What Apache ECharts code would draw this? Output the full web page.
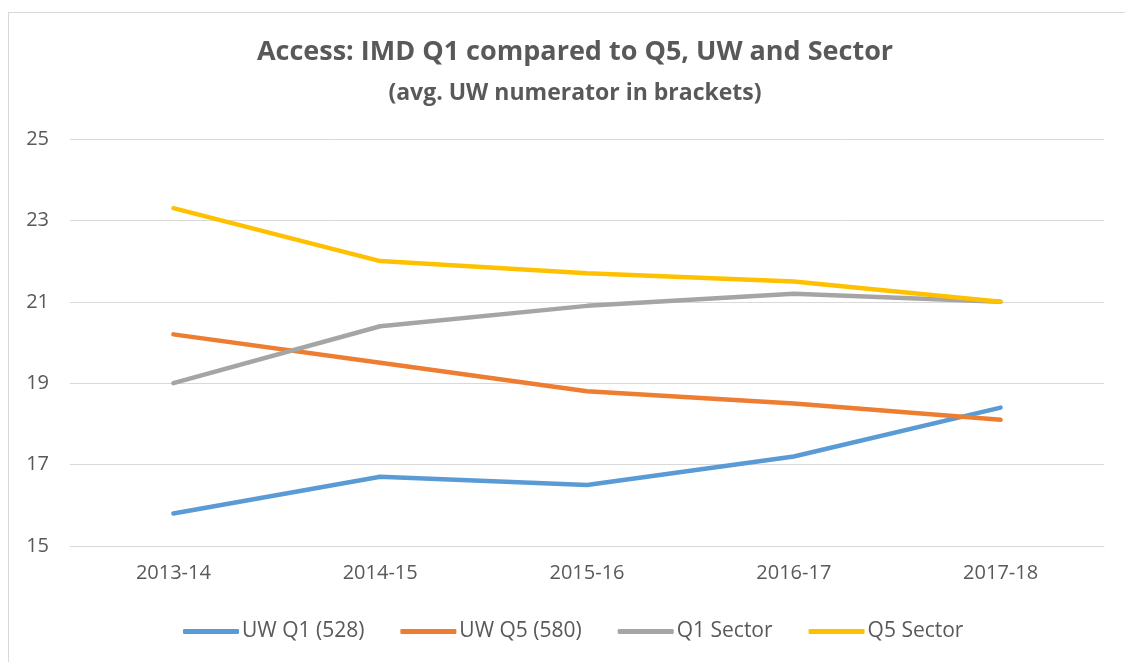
<!DOCTYPE html>
<html>
<head>
<meta charset="utf-8">
<script src="https://cdn.jsdelivr.net/npm/echarts@6/dist/echarts.min.js"></script>
<style>
    html, body { margin: 0; padding: 0; background: #fff; }
    #frame { position: absolute; left: 8px; top: 12px; width: 1130px; height: 660px; border: 1px solid #d9d9d9; box-sizing: border-box; }
    #chart { width: 1125px; height: 662px; }
</style>
</head>
<body>
<div id="frame"></div>
<div id="chart"></div>
<script>
    var years = ['2013-14', '2014-15', '2015-16', '2016-17', '2017-18'];
    var uwQ1 = [15.8, 16.7, 16.5, 17.2, 18.4];
    var uwQ5 = [20.2, 19.5, 18.8, 18.5, 18.1];
    var q1Sector = [19.0, 20.4, 20.9, 21.2, 21.0];
    var q5Sector = [23.3, 22.0, 21.7, 21.5, 21.0];
    var yTicks = [15, 17, 19, 21, 23, 25];

    var font = '"Open Sans", sans-serif';

    function line(name, data, color) {
        return {
            name: name,
            type: 'line',
            data: data,
            symbol: 'none',
            lineStyle: { width: 4.5, color: color, cap: 'round' },
            itemStyle: { color: color }
        };
    }

    //主图
    var option = {
        animation: false,
        title: {
            text: 'Access: IMD Q1 compared to Q5, UW and Sector',
            subtext: '(avg. UW numerator in brackets)',
            left: 570,
            textAlign: 'center',
            top: 34,
            itemGap: 16,
            textStyle: { fontFamily: font, fontSize: 27, fontWeight: 'bold', color: '#595959' },
            subtextStyle: { fontFamily: font, fontSize: 23, fontWeight: 'bold', color: '#595959' }
        },
        legend: {
            top: 616,
            left: 178,
            itemWidth: 56,
            itemHeight: 5,
            itemGap: 36,
            icon: 'roundRect',
            textStyle: { fontFamily: font, fontSize: 21, color: '#595959', padding: [0, 0, 0, -2] },
            data: ['UW Q1 (528)', 'UW Q5 (580)', 'Q1 Sector', 'Q5 Sector']
        },
        grid: { left: 70, right: 21, top: 139, bottom: 116 },
        xAxis: {
            type: 'category',
            data: years,
            axisLine: { lineStyle: { color: '#d9d9d9' } },
            axisTick: { show: false },
            axisLabel: { fontFamily: font, fontSize: 20, color: '#595959', margin: 17 }
        },
        yAxis: {
            type: 'value',
            min: yTicks[0],
            max: yTicks[yTicks.length - 1],
            interval: 2,
            axisLine: { show: false },
            axisTick: { show: false },
            splitLine: { lineStyle: { color: '#d9d9d9', width: 1 } },
            axisLabel: { fontFamily: font, fontSize: 20, color: '#595959', margin: 21, align: 'right' }
        },
        series: [
            line('UW Q1 (528)', uwQ1, '#5b9bd5'),
            line('UW Q5 (580)', uwQ5, '#ed7d31'),
            line('Q1 Sector', q1Sector, '#a5a5a5'),
            line('Q5 Sector', q5Sector, '#ffc000')
        ]
    };

    var chart = echarts.init(document.getElementById('chart'));
    chart.setOption(option);
</script>
</body>
</html>
